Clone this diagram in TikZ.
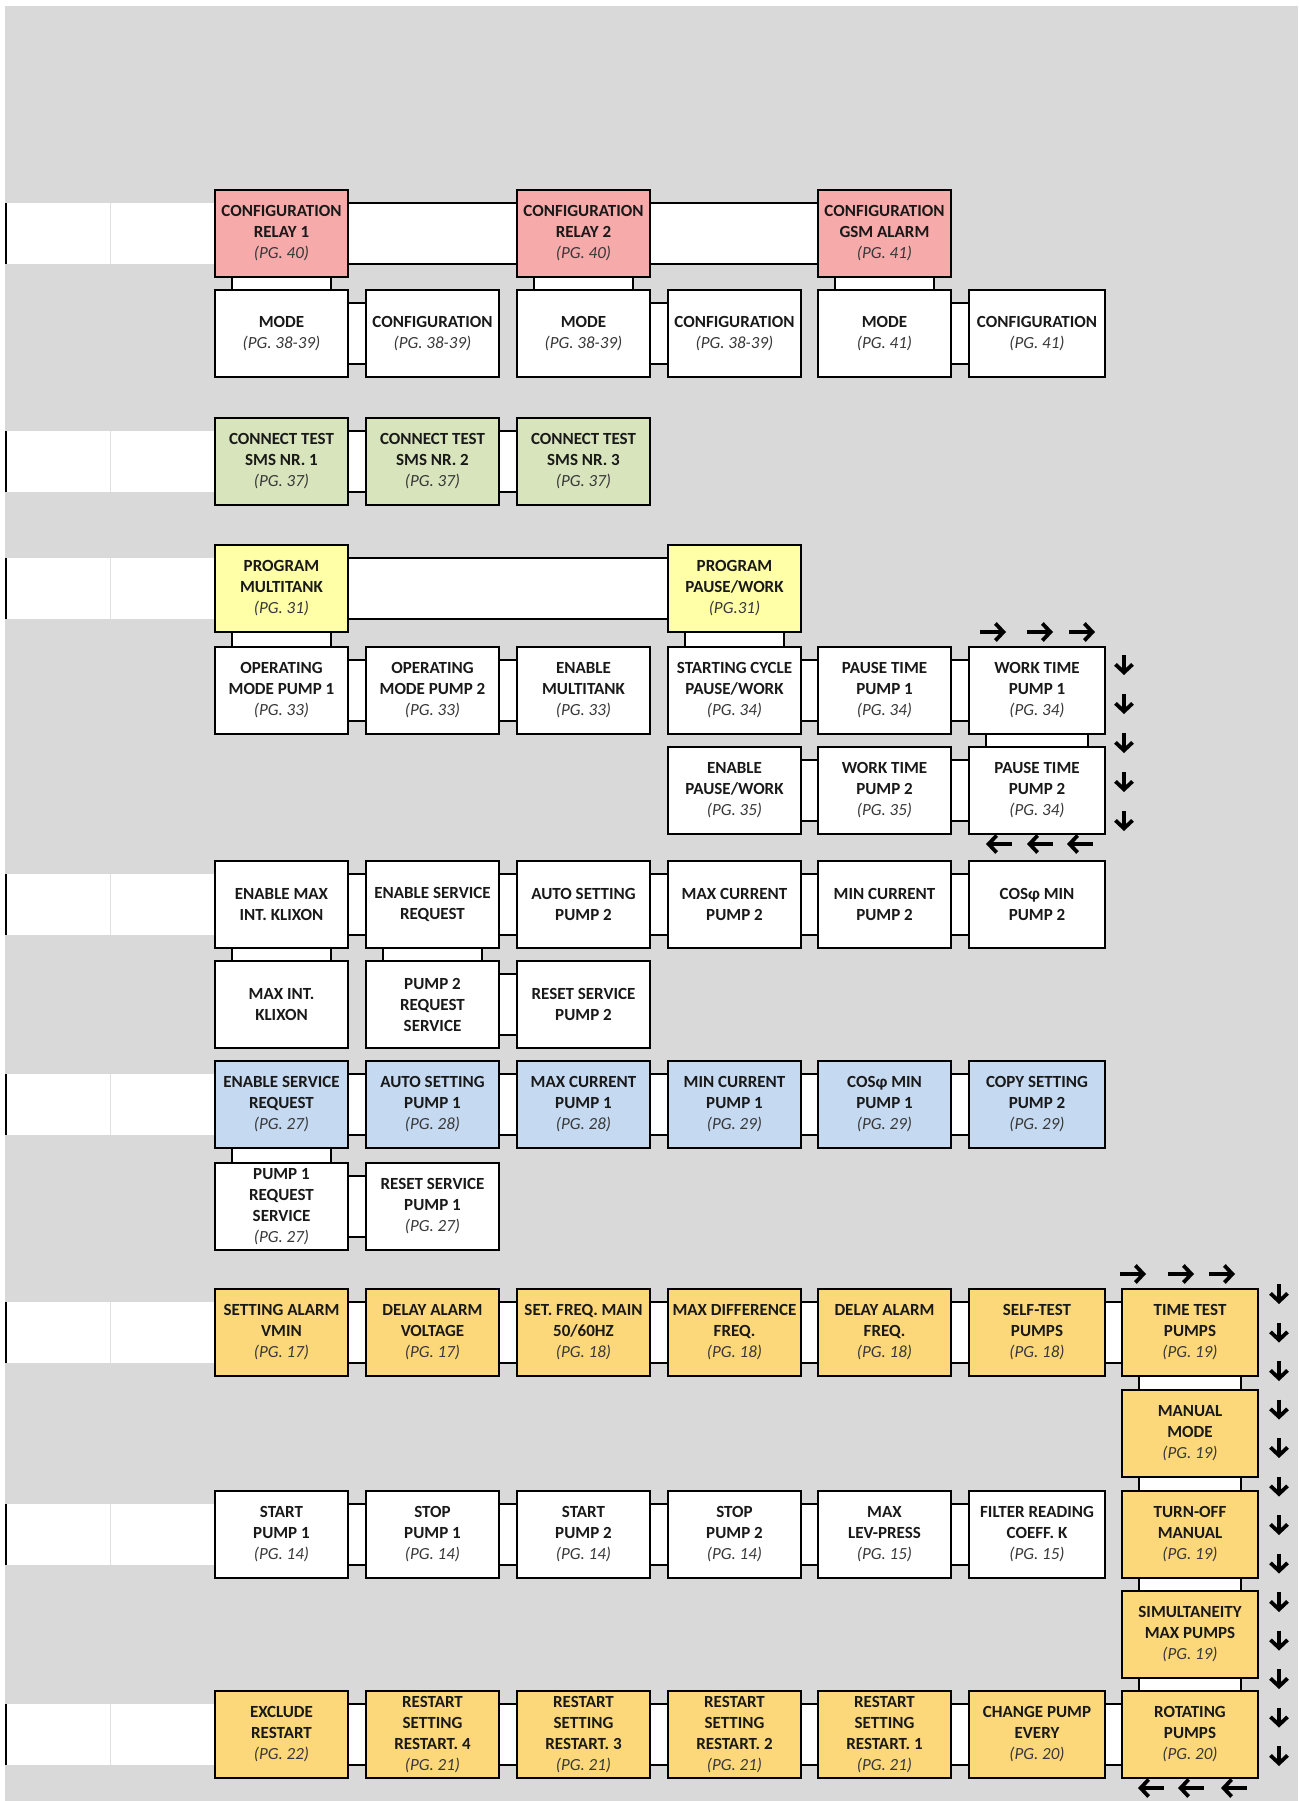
\documentclass[tikz,border=0pt]{standalone}
\usepackage{fontspec}
\setmainfont{Carlito}
\usetikzlibrary{calc,arrows.meta}
\definecolor{bggray}{HTML}{D9D9D9}
\definecolor{pinkc}{HTML}{F6AAAA}
\definecolor{greenc}{HTML}{D8E4BC}
\definecolor{paleyel}{HTML}{FFFFA8}
\definecolor{bluec}{HTML}{C5D9F1}
\definecolor{orangec}{HTML}{FDD87B}
\newcommand{\pg}[1]{{\mdseries\itshape\color{black!78}(#1)}}
\newcommand{\hjoin}[2]{%
	\fill[white] ($(#1.north east)+(0,14)$) rectangle ($(#2.south west)+(0,-14)$);
	\draw[conn] ($(#1.north east)+(0,14)$) -- ($(#2.north west)+(0,14)$);
	\draw[conn] ($(#1.south east)+(0,-14)$) -- ($(#2.south west)+(0,-14)$);}
\newcommand{\vjoin}[2]{%
	\fill[white] ($(#1.south west)+(18,0)$) rectangle ($(#2.north east)+(-18,0)$);
	\draw[conn] ($(#1.south west)+(18,0)$) -- ($(#2.north west)+(18,0)$);
	\draw[conn] ($(#1.south east)+(-18,0)$) -- ($(#2.north east)+(-18,0)$);}
\newcommand{\rowband}[1]{%
	\fill[white] ($(#1.north west)+(0,14)$) rectangle ($(#1.south west)+(-208,-14)$);
	\draw[black!12, line width=0.5pt] ($(#1.north west)+(-104,14)$) -- ($(#1.south west)+(-104,-14)$);
	\draw[line width=1.2pt] ($(#1.north west)+(-208,14)$) -- ($(#1.south west)+(-208,-14)$);}
\begin{document}
\begin{tikzpicture}[x=0.5pt, y=-0.5pt,
		box/.style={draw, line width=1pt, fill=white, anchor=north west, inner sep=0pt,
			minimum width=66.5pt, minimum height=43.5pt, align=center, text=black!90,
			font=\fontsize{8.5}{10.5}\selectfont\bfseries},
		wide/.style={minimum width=68pt},
		conn/.style={line width=1pt},
		arw/.style={line width=1.9pt, -{Straight Barb[length=4pt, width=8.5pt]}}]
	\useasboundingbox (0,0) rectangle (1298,1801);
	\fill[white] (0,0) rectangle (1298,1801);
	\fill[bggray] (5,6) rectangle (1298,1801);

	\node[box, fill=pinkc] (a1) at (214,189) {CONFIGURATION\\RELAY 1\\\pg{PG. 40}};
	\node[box, fill=pinkc] (a3) at (516,189) {CONFIGURATION\\RELAY 2\\\pg{PG. 40}};
	\node[box, fill=pinkc] (a5) at (817,189) {CONFIGURATION\\GSM ALARM\\\pg{PG. 41}};
	\node[box] (b1) at (214,289) {MODE\\\pg{PG. 38-39}};
	\node[box] (b2) at (365,289) {CONFIGURATION\\\pg{PG. 38-39}};
	\node[box] (b3) at (516,289) {MODE\\\pg{PG. 38-39}};
	\node[box] (b4) at (667,289) {CONFIGURATION\\\pg{PG. 38-39}};
	\node[box] (b5) at (817,289) {MODE\\\pg{PG. 41}};
	\node[box, wide] (b6) at (968,289) {CONFIGURATION\\\pg{PG. 41}};

	\node[box, fill=greenc] (c1) at (214,417) {CONNECT TEST\\SMS NR. 1\\\pg{PG. 37}};
	\node[box, fill=greenc] (c2) at (365,417) {CONNECT TEST\\SMS NR. 2\\\pg{PG. 37}};
	\node[box, fill=greenc] (c3) at (516,417) {CONNECT TEST\\SMS NR. 3\\\pg{PG. 37}};

	\node[box, fill=paleyel] (d1) at (214,544) {PROGRAM\\MULTITANK\\\pg{PG. 31}};
	\node[box, fill=paleyel] (d4) at (667,544) {PROGRAM\\PAUSE/WORK\\\pg{PG.31}};
	\node[box] (e1) at (214,646) {OPERATING\\MODE PUMP 1\\\pg{PG. 33}};
	\node[box] (e2) at (365,646) {OPERATING\\MODE PUMP 2\\\pg{PG. 33}};
	\node[box] (e3) at (516,646) {ENABLE\\MULTITANK\\\pg{PG. 33}};
	\node[box] (e4) at (667,646) {STARTING CYCLE\\PAUSE/WORK\\\pg{PG. 34}};
	\node[box] (e5) at (817,646) {PAUSE TIME\\PUMP 1\\\pg{PG. 34}};
	\node[box, wide] (e6) at (968,646) {WORK TIME\\PUMP 1\\\pg{PG. 34}};
	\node[box] (f4) at (667,746) {ENABLE\\PAUSE/WORK\\\pg{PG. 35}};
	\node[box] (f5) at (817,746) {WORK TIME\\PUMP 2\\\pg{PG. 35}};
	\node[box, wide] (f6) at (968,746) {PAUSE TIME\\PUMP 2\\\pg{PG. 34}};

	\node[box] (g1) at (214,860) {ENABLE MAX\\INT. KLIXON};
	\node[box] (g2) at (365,860) {ENABLE SERVICE\\REQUEST};
	\node[box] (g3) at (516,860) {AUTO SETTING\\PUMP 2};
	\node[box] (g4) at (667,860) {MAX CURRENT\\PUMP 2};
	\node[box] (g5) at (817,860) {MIN CURRENT\\PUMP 2};
	\node[box, wide] (g6) at (968,860) {COSφ MIN\\PUMP 2};
	\node[box] (h1) at (214,960) {MAX INT.\\KLIXON};
	\node[box] (h2) at (365,960) {PUMP 2\\REQUEST\\SERVICE};
	\node[box] (h3) at (516,960) {RESET SERVICE\\PUMP 2};

	\node[box, fill=bluec] (i1) at (214,1060) {ENABLE SERVICE\\REQUEST\\\pg{PG. 27}};
	\node[box, fill=bluec] (i2) at (365,1060) {AUTO SETTING\\PUMP 1\\\pg{PG. 28}};
	\node[box, fill=bluec] (i3) at (516,1060) {MAX CURRENT\\PUMP 1\\\pg{PG. 28}};
	\node[box, fill=bluec] (i4) at (667,1060) {MIN CURRENT\\PUMP 1\\\pg{PG. 29}};
	\node[box, fill=bluec] (i5) at (817,1060) {COSφ MIN\\PUMP 1\\\pg{PG. 29}};
	\node[box, wide, fill=bluec] (i6) at (968,1060) {COPY SETTING\\PUMP 2\\\pg{PG. 29}};
	\node[box] (j1) at (214,1162) {PUMP 1\\REQUEST\\SERVICE\\\pg{PG. 27}};
	\node[box] (j2) at (365,1162) {RESET SERVICE\\PUMP 1\\\pg{PG. 27}};

	\node[box, fill=orangec] (k1) at (214,1288) {SETTING ALARM\\VMIN\\\pg{PG. 17}};
	\node[box, fill=orangec] (k2) at (365,1288) {DELAY ALARM\\VOLTAGE\\\pg{PG. 17}};
	\node[box, fill=orangec] (k3) at (516,1288) {SET. FREQ. MAIN\\50/60HZ\\\pg{PG. 18}};
	\node[box, fill=orangec] (k4) at (667,1288) {MAX DIFFERENCE\\FREQ.\\\pg{PG. 18}};
	\node[box, fill=orangec] (k5) at (817,1288) {DELAY ALARM\\FREQ.\\\pg{PG. 18}};
	\node[box, wide, fill=orangec] (k6) at (968,1288) {SELF-TEST\\PUMPS\\\pg{PG. 18}};
	\node[box, wide, fill=orangec] (k7) at (1121,1288) {TIME TEST\\PUMPS\\\pg{PG. 19}};
	\node[box, wide, fill=orangec] (l7) at (1121,1389) {MANUAL\\MODE\\\pg{PG. 19}};
	\node[box] (m1) at (214,1490) {START\\PUMP 1\\\pg{PG. 14}};
	\node[box] (m2) at (365,1490) {STOP\\PUMP 1\\\pg{PG. 14}};
	\node[box] (m3) at (516,1490) {START\\PUMP 2\\\pg{PG. 14}};
	\node[box] (m4) at (667,1490) {STOP\\PUMP 2\\\pg{PG. 14}};
	\node[box] (m5) at (817,1490) {MAX\\LEV-PRESS\\\pg{PG. 15}};
	\node[box, wide] (m6) at (968,1490) {FILTER READING\\COEFF. K\\\pg{PG. 15}};
	\node[box, wide, fill=orangec] (m7) at (1121,1490) {TURN-OFF\\MANUAL\\\pg{PG. 19}};
	\node[box, wide, fill=orangec] (n7) at (1121,1590) {SIMULTANEITY\\MAX PUMPS\\\pg{PG. 19}};
	\node[box, fill=orangec] (o1) at (214,1690) {EXCLUDE\\RESTART\\\pg{PG. 22}};
	\node[box, fill=orangec] (o2) at (365,1690) {RESTART\\SETTING\\RESTART. 4\\\pg{PG. 21}};
	\node[box, fill=orangec] (o3) at (516,1690) {RESTART\\SETTING\\RESTART. 3\\\pg{PG. 21}};
	\node[box, fill=orangec] (o4) at (667,1690) {RESTART\\SETTING\\RESTART. 2\\\pg{PG. 21}};
	\node[box, fill=orangec] (o5) at (817,1690) {RESTART\\SETTING\\RESTART. 1\\\pg{PG. 21}};
	\node[box, wide, fill=orangec] (o6) at (968,1690) {CHANGE PUMP\\EVERY\\\pg{PG. 20}};
	\node[box, wide, fill=orangec] (o7) at (1121,1690) {ROTATING\\PUMPS\\\pg{PG. 20}};

	\foreach \r in {a1,c1,d1,g1,i1,k1,m1,o1} {\rowband{\r}}
	\foreach \p/\q in {a1/a3,a3/a5,b1/b2,b3/b4,b5/b6,c1/c2,c2/c3,d1/d4,e1/e2,e2/e3,e4/e5,e5/e6,
		f4/f5,f5/f6,g1/g2,g2/g3,g3/g4,g4/g5,g5/g6,h2/h3,i1/i2,i2/i3,i3/i4,i4/i5,i5/i6,j1/j2,
		k1/k2,k2/k3,k3/k4,k4/k5,k5/k6,k6/k7,m1/m2,m2/m3,m3/m4,m4/m5,m5/m6,
		o1/o2,o2/o3,o3/o4,o4/o5,o5/o6,o6/o7} {\hjoin{\p}{\q}}
	\foreach \p/\q in {a1/b1,a3/b3,a5/b5,d1/e1,d4/e4,e6/f6,g1/h1,g2/h2,i1/j1,k7/l7,l7/m7,m7/n7,n7/o7} {\vjoin{\p}{\q}}

	\foreach \x in {993,1040,1082} {\draw[arw] (\x-13,632) -- (\x+13,632);}
	\foreach \y in {665,704,743,782,821} {\draw[arw] (1124,\y-10) -- (1124,\y+10);}
	\foreach \x in {999,1040,1080} {\draw[arw] (\x+13,844) -- (\x-13,844);}
	\foreach \x in {1133,1181,1222} {\draw[arw] (\x-13,1274) -- (\x+13,1274);}
	\foreach \i [evaluate=\i as \y using 1294+38.5*\i] in {0,...,12} {\draw[arw] (1279,\y-10) -- (1279,\y+10);}
	\foreach \x in {1151,1191,1234} {\draw[arw] (\x+13,1788) -- (\x-13,1788);}
\end{tikzpicture}
\end{document}
